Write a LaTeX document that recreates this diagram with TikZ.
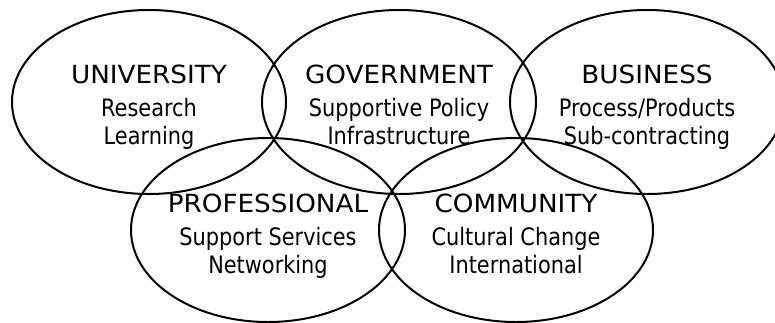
\documentclass[tikz,border=0pt]{standalone}
\usepackage{fontspec}
\setmainfont{DejaVu Sans}[FakeStretch=0.87]
\newfontfamily\headfont{DejaVu Sans}[FakeStretch=1.05]
\usetikzlibrary{shapes.geometric}

\newcommand\headtxt[1]{{\headfont\fontsize{25}{28.3}\selectfont #1}\\[4.4pt]}

\begin{document}
\begin{tikzpicture}[x=1pt, y=-1pt,
  ring/.style={draw, ellipse, line width=2pt, minimum width=274pt,
    minimum height=184pt, inner sep=0pt},
  txt/.style={anchor=north, inner sep=0pt, align=center,
    font=\fontsize{24}{28.3}\selectfont}
]
\useasboundingbox (0,0) rectangle (775,322);
% top row
\node[ring] (uni) at (149,102) {};
\node[ring] (gov) at (399,102) {};
\node[ring] (bus) at (647,102) {};
% bottom row
\node[ring] (pro) at (268,230) {};
\node[ring] (com) at (516,230) {};
% texts
\node[txt] (unitxt) at ([yshift=37pt]uni.center) {\headtxt{UNIVERSITY}Research\\Learning};
\node[txt] (govtxt) at ([yshift=37pt]gov.center) {\headtxt{GOVERNMENT}Supportive Policy\\Infrastructure};
\node[txt] (bustxt) at ([yshift=37pt]bus.center) {\headtxt{BUSINESS}Process/Products\\Sub-contracting};
\node[txt] (protxt) at ([yshift=36pt]pro.center) {\headtxt{PROFESSIONAL}Support Services\\Networking};
\node[txt] (comtxt) at ([yshift=36pt]com.center) {\headtxt{COMMUNITY}Cultural Change\\International};
\end{tikzpicture}
\end{document}
